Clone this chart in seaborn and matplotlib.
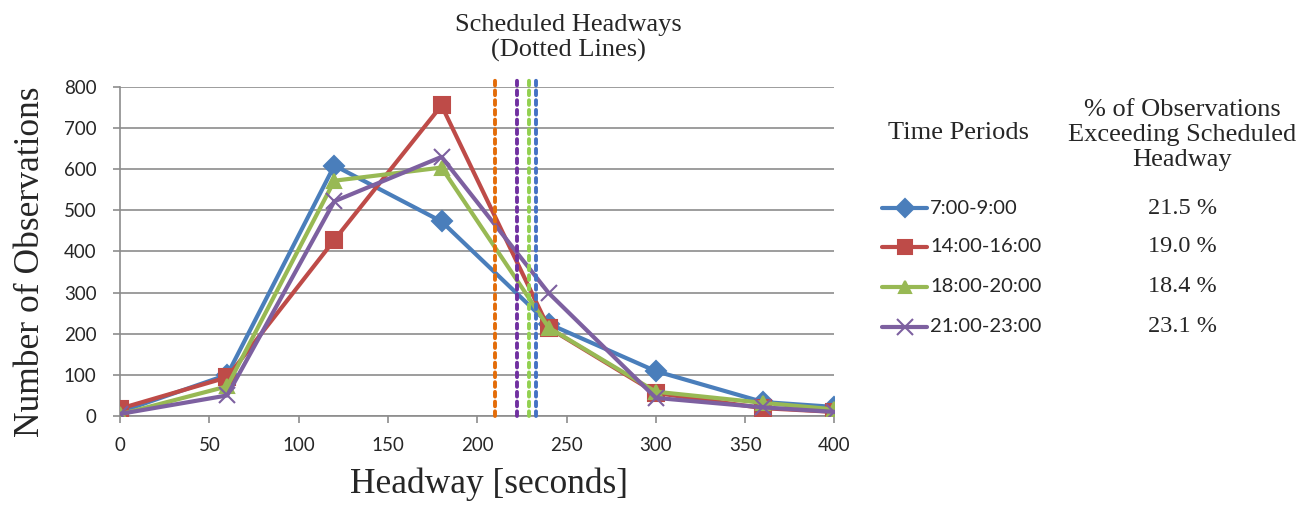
import pandas as pd
import matplotlib.pyplot as plt
import seaborn as sns
from matplotlib.lines import Line2D

# Headway distribution per time period
headway = [0, 60, 120, 180, 240, 300, 360, 400]
periods = ['7:00-9:00', '14:00-16:00', '18:00-20:00', '21:00-23:00']
am_peak = [10, 100, 609, 473, 224, 109, 34, 22]
pm_mid = [18, 94, 428, 755, 214, 56, 19, 10]
pm_peak = [4, 72, 572, 604, 215, 59, 32, 16]
evening = [5, 50, 522, 630, 299, 44, 21, 10]
pct_exceeding = ['21.5 %', '19.0 %', '18.4 %', '23.1 %']
scheduled = [210, 222, 229, 233]

line_colors = ['#4A7EBB', '#BE4B48', '#98B954', '#7D60A0']
sched_colors = ['#E36C09', '#7030A0', '#92D050', '#4472C4']
markers = ['D', 's', '^', 'x']
msizes = [10, 11, 10, 12]

df = pd.DataFrame({
    'headway': headway * 4,
    'count': am_peak + pm_mid + pm_peak + evening,
    'period': [p for p in periods for _ in headway],
})

sns.set_style('white')
plt.rcParams['font.family'] = ['Lato', 'DejaVu Sans']
serif = 'Liberation Serif'

fig = plt.figure(figsize=(13.12, 5.07), dpi=100)
ax = fig.add_axes([0.0915, 0.1795, 0.5445, 0.6490])

# one call per series so filled and line-art markers can be mixed
for i, p in enumerate(periods):
    sns.lineplot(data=df[df['period'] == p], x='headway', y='count', color=line_colors[i],
                 marker=markers[i], markersize=msizes[i], markeredgewidth=1.5,
                 markeredgecolor=line_colors[i], linewidth=3.0, ax=ax, zorder=3 + i)

# scheduled headways as dotted verticals
for x, c in zip(scheduled, sched_colors):
    ax.vlines(x, 0, 818, colors=c, linestyles=(0, (1.2, 1.3)), linewidth=2.8,
              capstyle='round', clip_on=False, zorder=8)

ax.set_xlim(0, 400)
ax.set_ylim(0, 800)
ax.set_xticks(range(0, 401, 50))
ax.set_yticks(range(0, 801, 100))
ax.yaxis.grid(True, color='#8C8C8C', linewidth=1.2)
ax.xaxis.grid(False)
ax.set_axisbelow(True)
for s in ['top', 'right']:
    ax.spines[s].set_visible(False)
for s in ['left', 'bottom']:
    ax.spines[s].set_color('#8C8C8C')
    ax.spines[s].set_linewidth(1.2)
ax.tick_params(axis='both', labelsize=13.5, length=5, width=1.2, color='#8C8C8C',
               direction='out', bottom=True, left=True)
ax.tick_params(axis='x', pad=10)
ax.tick_params(axis='y', pad=12)
ax.set_xlabel('Headway [seconds]', family=serif, fontsize=25.5, labelpad=10)
ax.set_ylabel('Number of Observations', family=serif, fontsize=25.5, labelpad=12)
ax.xaxis.label.set_x(0.517)
ax.yaxis.label.set_y(0.468)

fig.text(0.433, 0.972, 'Scheduled Headways\n(Dotted Lines)', family=serif,
         fontsize=19, ha='center', va='top', linespacing=1.15)

# legend block on the right
fig.text(959 / 1312, 1 - 133 / 507, 'Time Periods', family=serif, fontsize=19,
         ha='center', va='center')
fig.text(0.901, 1 - 135 / 507, '% of Observations\nExceeding Scheduled\nHeadway',
         family=serif, fontsize=19, ha='center', va='center', linespacing=1.15)
row_y = [208, 247, 287, 327]
for i, (lab, pct) in enumerate(zip(periods, pct_exceeding)):
    yf = 1 - row_y[i] / 507
    fig.add_artist(Line2D([882 / 1312, 927 / 1312], [yf, yf], color=line_colors[i],
                          linewidth=3.0, transform=fig.transFigure))
    fig.add_artist(Line2D([905 / 1312], [yf], color=line_colors[i], marker=markers[i],
                          markersize=msizes[i] - 1, markeredgewidth=1.5,
                          linestyle='none', transform=fig.transFigure))
    fig.text(930 / 1312, yf, lab, fontsize=14.5, ha='left', va='center')
    fig.text(0.901, yf, pct, family=serif, fontsize=17.5, ha='center', va='center')

fig.savefig('out.png', dpi=100)
